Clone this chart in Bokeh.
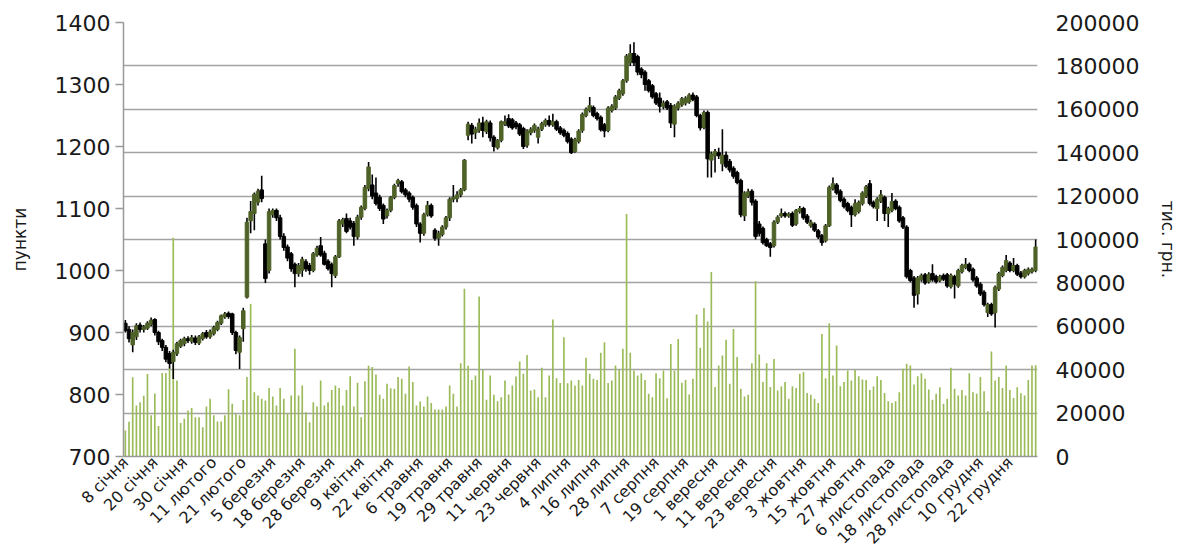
import math
from bokeh.plotting import figure
from bokeh.models import (ColumnDataSource, Range1d, LinearAxis, FixedTicker,
                          BasicTickFormatter)
from bokeh.embed import file_html
from bokeh.resources import INLINE

# ---------------- data ----------------
tick_labels = ["8 січня", "20 січня", "30 січня", "11 лютого", "21 лютого", "5 березня",
               "18 березня", "28 березня", "9 квітня", "22 квітня", "6 травня", "19 травня",
               "29 травня", "11 червня", "23 червня", "4 липня", "16 липня", "28 липня",
               "7 серпня", "19 серпня", "1 вересня", "11 вересня", "23 вересня", "3 жовтня",
               "15 жовтня", "27 жовтня", "6 листопада", "18 листопада", "28 листопада",
               "10 грудня", "22 грудня"]
label_step = 8  # one label every 8 trading days

opens = [
    915, 905, 880, 893, 912, 905, 907, 913, 921, 900,
    887, 876, 866, 853, 866, 878, 882, 890, 886, 891,
    883, 890, 900, 893, 898, 905, 915, 925, 931, 930,
    900, 868, 906, 957, 1080, 1092, 1110, 1130, 1043, 1000,
    1090, 1097, 1085, 1055, 1038, 1027, 1010, 995, 1000, 1014,
    1008, 1000, 1025, 1040, 1028, 1015, 1010, 992, 1022, 1075,
    1084, 1080, 1076, 1054, 1086, 1100, 1132, 1138, 1125, 1118,
    1105, 1088, 1097, 1118, 1140, 1143, 1130, 1125, 1118, 1105,
    1075, 1060, 1090, 1105, 1065, 1052, 1058, 1070, 1085, 1115,
    1116, 1122, 1130, 1218, 1234, 1222, 1226, 1238, 1224, 1238,
    1215, 1198, 1210, 1236, 1245, 1243, 1238, 1235, 1229, 1202,
    1222, 1226, 1215, 1228, 1235, 1242, 1235, 1240, 1230, 1226,
    1221, 1212, 1192, 1208, 1226, 1250, 1258, 1263, 1253, 1247,
    1235, 1226, 1258, 1262, 1278, 1285, 1306, 1335, 1350, 1345,
    1325, 1320, 1306, 1298, 1285, 1278, 1264, 1272, 1266, 1236,
    1262, 1267, 1270, 1272, 1283, 1280, 1250, 1231, 1255, 1178,
    1185, 1190, 1172, 1186, 1176, 1165, 1158, 1145, 1088, 1120,
    1128, 1112, 1075, 1068, 1050, 1043, 1040, 1078, 1088, 1092,
    1088, 1092, 1075, 1095, 1100, 1088, 1072, 1075, 1064, 1056,
    1048, 1072, 1132, 1138, 1128, 1115, 1108, 1102, 1090, 1095,
    1108, 1120, 1140, 1110, 1100, 1112, 1118, 1092, 1097, 1112,
    1102, 1085, 1070, 1000, 988, 962, 985, 993, 982, 995,
    990, 984, 992, 993, 974, 990, 975, 998, 1005, 1010,
    1002, 988, 978, 965, 932, 945, 932, 970, 992, 1000,
    1012, 1000, 1008, 996, 990, 995, 998, 1000]

highs = [
    920, 910, 905, 915, 916, 912, 918, 924, 923, 903,
    890, 880, 870, 872, 885, 890, 893, 894, 896, 895,
    896, 901, 904, 905, 911, 919, 929, 933, 934, 932,
    903, 895, 940, 1085, 1112, 1126, 1132, 1153, 1050, 1100,
    1100, 1100, 1090, 1060, 1042, 1030, 1013, 1012, 1022, 1018,
    1012, 1030, 1040, 1054, 1032, 1018, 1013, 1025, 1083, 1085,
    1092, 1085, 1080, 1090, 1105, 1138, 1175, 1155, 1150, 1122,
    1108, 1100, 1120, 1140, 1148, 1146, 1133, 1128, 1121, 1108,
    1078, 1093, 1112, 1108, 1068, 1064, 1073, 1088, 1118, 1138,
    1128, 1133, 1180, 1240, 1238, 1232, 1245, 1248, 1243, 1242,
    1218, 1212, 1242, 1250, 1252, 1246, 1241, 1238, 1232, 1228,
    1231, 1237, 1232, 1240, 1245, 1250, 1253, 1243, 1233, 1229,
    1224, 1215, 1214, 1228, 1255, 1263, 1280, 1266, 1256, 1250,
    1238, 1265, 1268, 1283, 1293, 1309, 1349, 1365, 1368, 1348,
    1328, 1323, 1309, 1301, 1288, 1287, 1274, 1275, 1270, 1268,
    1273, 1280, 1281, 1286, 1287, 1283, 1253, 1258, 1258, 1192,
    1196, 1198, 1228, 1192, 1180, 1168, 1161, 1148, 1128, 1132,
    1131, 1115, 1080, 1071, 1053, 1046, 1081, 1089, 1100, 1095,
    1094, 1095, 1099, 1104, 1103, 1091, 1082, 1078, 1067, 1059,
    1075, 1137, 1150, 1141, 1131, 1118, 1111, 1105, 1115, 1113,
    1128, 1138, 1146, 1113, 1118, 1130, 1121, 1103, 1125, 1115,
    1105, 1088, 1073, 1003, 991, 991, 995, 996, 997, 1010,
    993, 993, 995, 996, 995, 993, 1003, 1011, 1020, 1013,
    1005, 991, 981, 968, 948, 948, 976, 998, 1008, 1025,
    1015, 1020, 1011, 999, 1003, 1005, 1005, 1050]

lows = [
    900, 884, 868, 888, 900, 900, 904, 910, 895, 880,
    870, 852, 842, 825, 862, 875, 878, 883, 882, 880,
    880, 887, 890, 890, 895, 902, 912, 922, 922, 896,
    865, 841, 885, 955, 1060, 1065, 1105, 1110, 980, 995,
    1085, 1080, 1050, 1032, 1015, 998, 973, 990, 990, 998,
    993, 997, 1022, 1022, 1008, 1000, 973, 988, 1020, 1070,
    1060, 1066, 1040, 1050, 1082, 1097, 1128, 1115, 1105, 1096,
    1075, 1084, 1094, 1115, 1135, 1124, 1118, 1110, 1098, 1070,
    1045, 1056, 1087, 1085, 1048, 1040, 1055, 1066, 1080, 1110,
    1110, 1118, 1128, 1210, 1205, 1212, 1222, 1215, 1220, 1208,
    1192, 1195, 1207, 1233, 1230, 1227, 1228, 1217, 1196, 1198,
    1218, 1222, 1205, 1225, 1232, 1232, 1232, 1225, 1219, 1215,
    1205, 1188, 1190, 1205, 1222, 1247, 1255, 1247, 1242, 1224,
    1215, 1223, 1255, 1259, 1275, 1282, 1303, 1330, 1330, 1315,
    1310, 1290, 1287, 1277, 1267, 1255, 1260, 1259, 1230, 1215,
    1258, 1264, 1266, 1269, 1273, 1247, 1226, 1228, 1150, 1150,
    1158, 1180, 1160, 1165, 1158, 1148, 1139, 1086, 1080, 1117,
    1105, 1050, 1055, 1042, 1038, 1022, 1037, 1075, 1085, 1085,
    1085, 1070, 1072, 1092, 1082, 1075, 1069, 1062, 1051, 1040,
    1045, 1070, 1129, 1122, 1110, 1100, 1094, 1070, 1087, 1092,
    1105, 1117, 1105, 1100, 1080, 1109, 1080, 1070, 1094, 1097,
    1077, 1067, 987, 981, 940, 945, 982, 977, 979, 982,
    979, 981, 983, 972, 971, 955, 972, 995, 1002, 997,
    982, 972, 959, 942, 925, 927, 908, 967, 989, 997,
    997, 997, 991, 987, 987, 992, 995, 997]

closes = [
    903, 890, 900, 911, 905, 909, 915, 920, 900, 885,
    876, 857, 850, 868, 882, 887, 890, 887, 892, 884,
    893, 898, 893, 901, 908, 916, 927, 930, 926, 900,
    871, 892, 935, 1078, 1095, 1123, 1128, 1116, 987, 1095,
    1097, 1085, 1055, 1037, 1020, 1003, 995, 1008, 1018, 1003,
    1000, 1027, 1036, 1025, 1010, 1003, 995, 1022, 1080, 1082,
    1063, 1070, 1055, 1086, 1102, 1134, 1167, 1120, 1108, 1100,
    1083, 1097, 1118, 1137, 1145, 1127, 1122, 1115, 1102, 1075,
    1060, 1090, 1105, 1088, 1052, 1060, 1070, 1085, 1115, 1118,
    1122, 1130, 1178, 1236, 1220, 1228, 1238, 1226, 1240, 1214,
    1200, 1210, 1240, 1240, 1233, 1230, 1232, 1220, 1200, 1225,
    1228, 1234, 1228, 1237, 1242, 1235, 1240, 1228, 1222, 1218,
    1208, 1190, 1211, 1225, 1252, 1260, 1266, 1250, 1245, 1227,
    1225, 1262, 1265, 1280, 1290, 1306, 1346, 1350, 1335, 1320,
    1316, 1300, 1290, 1280, 1270, 1265, 1270, 1262, 1238, 1265,
    1270, 1277, 1278, 1283, 1276, 1250, 1230, 1255, 1180, 1188,
    1192, 1185, 1186, 1168, 1162, 1152, 1142, 1090, 1125, 1127,
    1110, 1055, 1060, 1045, 1040, 1037, 1078, 1086, 1092, 1088,
    1091, 1073, 1097, 1100, 1085, 1078, 1078, 1065, 1054, 1045,
    1072, 1134, 1140, 1125, 1113, 1103, 1097, 1090, 1108, 1110,
    1125, 1135, 1108, 1103, 1115, 1122, 1092, 1100, 1111, 1100,
    1080, 1070, 990, 984, 960, 988, 992, 980, 994, 985,
    982, 990, 986, 975, 992, 978, 1000, 1008, 1010, 1000,
    985, 975, 962, 945, 945, 930, 973, 995, 1005, 1016,
    1000, 1008, 994, 990, 1000, 1002, 1002, 1038]

volumes = [
    12000, 16000, 36500, 23500, 25000, 28000, 38000, 19000, 29000, 14000,
    38500, 38500, 41000, 100800, 35000, 15400, 17400, 21200, 22400, 18100,
    18100, 13500, 23000, 26600, 19000, 16100, 16100, 19000, 31000, 24300,
    19700, 19000, 26000, 36600, 70300, 29600, 28100, 26600, 25800, 31600,
    27600, 23500, 31600, 26600, 19700, 28100, 49600, 28100, 32700, 20400,
    15800, 25000, 23000, 35000, 23500, 25000, 30700, 32700, 31600, 23500,
    30700, 37000, 23000, 34000, 18100, 34700, 41800, 41200, 37800, 28400,
    26600, 33500, 31500, 31200, 36600, 35800, 28900, 41500, 34300, 23500,
    25300, 23000, 27600, 24700, 21700, 21700, 21700, 23000, 32700, 28900,
    23000, 43000, 77300, 41800, 35300, 37300, 73700, 40000, 26100, 37300,
    28400, 25500, 27300, 35000, 28600, 32700, 36900, 43800, 38100, 46800,
    30400, 30900, 27300, 40900, 27300, 37300, 63100, 36100, 33900, 55000,
    33800, 35000, 32700, 35300, 32700, 45500, 38100, 35800, 35300, 47800,
    52700, 33900, 35000, 41900, 40000, 49600, 111800, 47800, 39600, 37300,
    38400, 35300, 28900, 27300, 38400, 36100, 39600, 26900, 51900, 39600,
    54200, 34000, 35300, 28600, 35800, 65400, 50100, 68400, 62200, 85000,
    32000, 41900, 46500, 53800, 33500, 58800, 45800, 31200, 27600, 28400,
    43000, 80800, 47000, 34300, 43000, 32000, 44900, 30400, 32300, 34300,
    26600, 32400, 31600, 38100, 38900, 29300, 28400, 26600, 24600, 56500,
    36100, 61400, 37300, 51100, 32400, 34300, 39600, 35000, 39900, 37000,
    35500, 35300, 30700, 32300, 37000, 35300, 29300, 25500, 24700, 25500,
    29600, 40400, 42700, 41900, 33200, 37000, 38400, 35800, 30900, 26100,
    28900, 31900, 24300, 26600, 40900, 31200, 28100, 30700, 28100, 38400,
    29600, 28900, 36600, 30100, 20900, 48400, 35000, 36600, 31600, 41900,
    30700, 27000, 31900, 29200, 28100, 35300, 41900, 42000]

price_ticks = [700, 800, 900, 1000, 1100, 1200, 1300, 1400]
vol_ticks = [0, 20000, 40000, 60000, 80000, 100000, 120000, 140000, 160000, 180000, 200000]
price_min, price_max = 700, 1400
vol_min, vol_max = 0, 200000

# ---------------- layout / styling ----------------
UP = "#4f6228"
DOWN = "#000000"
BAR = "#9bbb59"
GRID = "#a3a3a3"
FONT = "DejaVu Sans"
TXT = "#1a1a1a"
LEFT, TOP = 123, 22
FRAME_W, FRAME_H = 914, 434
BOTTOM = 82
RIGHT = 141

n = len(closes)
xs = list(range(n))
src = ColumnDataSource(dict(
    x=xs, o=opens, h=highs, l=lows, c=closes, v=volumes,
    top=[max(o, c) for o, c in zip(opens, closes)],
    bottom=[min(o, c) for o, c in zip(opens, closes)],
    color=[UP if c >= o else DOWN for o, c in zip(opens, closes)],
))

p = figure(frame_width=FRAME_W, frame_height=FRAME_H, output_backend="svg",
           toolbar_location=None,
           x_range=Range1d(-0.5, n - 0.5), y_range=Range1d(price_min, price_max),
           min_border_left=LEFT, min_border_right=RIGHT,
           min_border_top=TOP, min_border_bottom=BOTTOM,
           background_fill_color="white", border_fill_color="white")
p.outline_line_color = None
p.extra_y_ranges = {"vol": Range1d(vol_min, vol_max)}

# gridlines follow the right (volume) axis
p.xgrid.visible = False
p.ygrid.ticker = FixedTicker(ticks=[price_min + v * (price_max - price_min) / (vol_max - vol_min)
                                    for v in vol_ticks])
p.ygrid.grid_line_color = GRID
p.ygrid.grid_line_width = 1.5

# volume bars
p.vbar(x="x", top="v", bottom=0, width=0.45, source=src, y_range_name="vol",
       fill_color=BAR, line_color=None)

# candles
p.segment(x0="x", y0="l", x1="x", y1="h", source=src, line_color="black", line_width=1.6)
p.vbar(x="x", top="top", bottom="bottom", width=0.95, source=src,
       fill_color="color", line_color="color", line_width=1)

# left axis
la = p.yaxis[0]
la.ticker = FixedTicker(ticks=price_ticks)
la.axis_label = "пункти"
la.axis_label_text_font = FONT
la.axis_label_text_font_size = "17px"
la.axis_label_text_font_style = "normal"
la.axis_label_text_color = TXT
la.axis_label_standoff = 22
la.major_label_text_font = FONT
la.major_label_text_font_size = "22px"
la.major_label_text_color = TXT
la.major_label_standoff = 5
la.axis_line_color = "#999999"
la.axis_line_width = 1.5
la.major_tick_line_color = "#999999"
la.major_tick_line_width = 1.5
la.major_tick_out = 8
la.major_tick_in = 0
la.minor_tick_line_color = None

# right axis
ra = LinearAxis(y_range_name="vol", ticker=FixedTicker(ticks=vol_ticks),
                formatter=BasicTickFormatter(use_scientific=False))
ra.axis_label = "тис. грн."
ra.axis_label_text_font = FONT
ra.axis_label_text_font_size = "17px"
ra.axis_label_text_font_style = "normal"
ra.axis_label_text_color = TXT
ra.axis_label_standoff = 16
ra.major_label_text_font = FONT
ra.major_label_text_font_size = "22px"
ra.major_label_text_color = TXT
ra.major_label_standoff = 18
ra.axis_line_color = None
ra.major_tick_line_color = None
ra.minor_tick_line_color = None
ra.major_tick_out = 0
ra.major_tick_in = 0
p.add_layout(ra, "right")

# bottom axis with rotated date labels
xa = p.xaxis[0]
tick_pos = [i * label_step for i in range(len(tick_labels))]
xa.ticker = FixedTicker(ticks=tick_pos)
xa.major_label_overrides = {t: lbl for t, lbl in zip(tick_pos, tick_labels)}
xa.major_label_orientation = math.pi / 4
xa.major_label_text_font = FONT
xa.major_label_text_font_size = "16px"
xa.major_label_text_color = TXT
xa.major_label_standoff = 3
xa.axis_line_color = "#999999"
xa.axis_line_width = 1.5
xa.major_tick_line_color = None
xa.minor_tick_line_color = None
xa.major_tick_out = 0
xa.major_tick_in = 0

open("out.html", "w").write(file_html(p, INLINE))
